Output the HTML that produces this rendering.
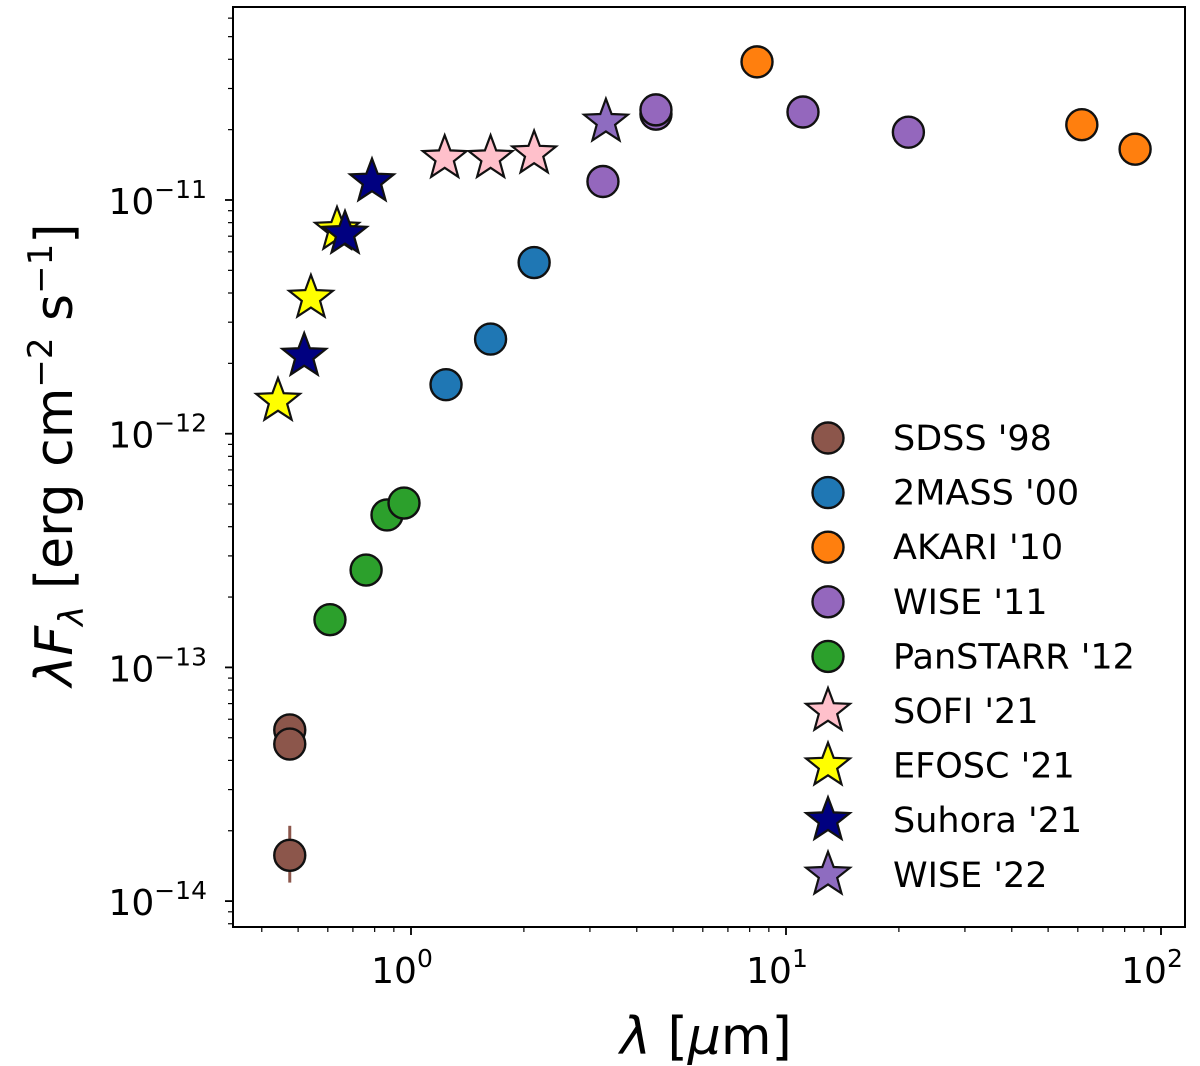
<!DOCTYPE html>
<html><head><meta charset="utf-8"><style>
html,body{margin:0;padding:0;background:#fff;}
svg{display:block;font-family:"DejaVu Sans","Liberation Sans",sans-serif;}
</style></head><body>
<svg id="chart" width="1200" height="1066" viewBox="0 0 1200 1066">
<rect x="0" y="0" width="1200" height="1066" fill="#fff"/>
<g id="ticks"></g>
<g id="marks"></g>
<rect x="233" y="7" width="952" height="920" fill="none" stroke="#000" stroke-width="2"/>
<g id="legend"></g>
<text x="706" y="1054" font-size="52" text-anchor="middle"><tspan font-style="italic">λ</tspan> [<tspan font-style="italic">μ</tspan>m]</text>
<text transform="translate(72,455) rotate(-90)" font-size="52" text-anchor="middle"><tspan font-style="italic">λF</tspan><tspan font-style="italic" font-size="34" dy="11">λ</tspan><tspan dy="-11"> [erg cm</tspan><tspan font-size="34" dy="-20">−2</tspan><tspan dy="20"> s</tspan><tspan font-size="34" dy="-20">−1</tspan><tspan dy="20">]</tspan></text>
</svg>
<script>
const seriesNames = ["SDSS '98","2MASS '00","AKARI '10","WISE '11","PanSTARR '12","SOFI '21","EFOSC '21","Suhora '21","WISE '22"];
const seriesColors = ["#8c564b","#1f77b4","#ff7f0e","#9467bd","#2ca02c","#ffc0cb","#ffff00","#000080","#8e6cc0"];
const seriesShapes = ["o","o","o","o","o","*","*","*","*"];
const sdssX = [0.475,0.475,0.475];
const sdssY = [5.4e-14,4.7e-14,1.57e-14];
const sdssErrLo = [0,0,1.2e-14];
const sdssErrHi = [0,0,2.1e-14];
const twomassX = [1.24,1.63,2.13];
const twomassY = [1.62e-12,2.54e-12,5.4e-12];
const akariX = [8.37,61.5,85.3];
const akariY = [3.9e-11,2.1e-11,1.65e-11];
const wise11X = [3.25,4.5,4.5,11.1,21.2];
const wise11Y = [1.2e-11,2.33e-11,2.43e-11,2.38e-11,1.95e-11];
const panstarrX = [0.608,0.759,0.863,0.958];
const panstarrY = [1.6e-13,2.61e-13,4.49e-13,5.05e-13];
const sofiX = [1.23,1.63,2.13];
const sofiY = [1.51e-11,1.51e-11,1.58e-11];
const efoscX = [0.442,0.541,0.635];
const efoscY = [1.38e-12,3.81e-12,7.45e-12];
const suhoraX = [0.519,0.667,0.787];
const suhoraY = [2.15e-12,7.16e-12,1.2e-11];
const wise22X = [3.31];
const wise22Y = [2.16e-11];
const xMajorTicks = [1,10,100];
const xMajorLabels = ["0","1","2"];
const yMajorTicks = [1e-11,1e-12,1e-13,1e-14];
const yMajorLabels = ["−11","−12","−13","−14"];

const NS="http://www.w3.org/2000/svg";
const X0=233,X1=1185,Y0=7,Y1=927;
function xs(v){return 411+375*Math.log10(v);}
function ys(v){return 200+233.7*(-11-Math.log10(v));}
function mk(tag,attrs,parent){const e=document.createElementNS(NS,tag);for(const k in attrs)e.setAttribute(k,attrs[k]);parent.appendChild(e);return e;}
const ticks=document.getElementById('ticks'),marks=document.getElementById('marks'),legend=document.getElementById('legend');

for(let d=-1;d<=2;d++){for(let m=1;m<10;m++){const v=m*Math.pow(10,d);const x=xs(v);if(x<X0||x>X1)continue;
 const major=m===1;const l=mk('line',{x1:x,x2:x,y1:Y1,y2:Y1+(major?8:5),stroke:'#000','stroke-width':major?1.8:1.2},ticks);
 
 }}
xMajorTicks.forEach((v,i)=>{const t=mk('text',{x:xs(v)-9,y:983,'font-size':36,'text-anchor':'middle'},ticks);
 
 
 t.innerHTML='10<tspan font-size="25" dy="-16">'+xMajorLabels[i]+'</tspan>';});
for(let d=-15;d<=-10;d++){for(let m=1;m<10;m++){const v=m*Math.pow(10,d);const y=ys(v);if(y<Y0||y>Y1)continue;
 const major=m===1;const l=mk('line',{x1:X0,x2:X0-(major?8:5),y1:y,y2:y,stroke:'#000','stroke-width':major?1.8:1.2},ticks);
 
 }}
yMajorTicks.forEach((v,i)=>{const t=mk('text',{x:207,y:ys(v)+14,'font-size':36,'text-anchor':'end'},ticks);
 
 
 t.innerHTML='10<tspan font-size="25" dy="-16">'+yMajorLabels[i]+'</tspan>';});

function starPts(cx,cy,R){const r=R*0.42;let p=[];for(let i=0;i<10;i++){const a=-Math.PI/2+i*Math.PI/5;const rr=i%2?r:R;p.push((cx+rr*Math.cos(a)).toFixed(1)+','+(cy+rr*Math.sin(a)).toFixed(1));}return p.join(' ');}
function drawMarker(shape,cx,cy,color,parent){
 if(shape==='o')return mk('circle',{cx:cx,cy:cy,r:15.5,fill:color,stroke:'#111','stroke-width':2.4},parent);
 return mk('polygon',{points:starPts(cx,cy,23),fill:color,stroke:'#111','stroke-width':2.2,'stroke-linejoin':'miter'},parent);}

sdssX.forEach((v,i)=>{if(sdssErrLo[i]>0){const l=mk('line',{x1:xs(v),x2:xs(v),y1:ys(sdssErrHi[i]),y2:ys(sdssErrLo[i]),stroke:'#8c564b','stroke-width':3},marks);
 
 }});
const allX=[sdssX,twomassX,akariX,wise11X,panstarrX,sofiX,efoscX,suhoraX,wise22X];
const allY=[sdssY,twomassY,akariY,wise11Y,panstarrY,sofiY,efoscY,suhoraY,wise22Y];
const slug=["sdss","2mass","akari","wise-11","panstarr","sofi","efosc","suhora","wise-22"];
allX.forEach((xsArr,s)=>{xsArr.forEach((v,i)=>{const e=drawMarker(seriesShapes[s],xs(v),ys(allY[s][i]),seriesColors[s],marks);
 
 });});

seriesNames.forEach((n,i)=>{const y=438+54.6*i;const g=mk('g',{},legend);
 
 
 drawMarker(seriesShapes[i],828,y,seriesColors[i],g);
 const t=mk('text',{x:893,y:y+12,'font-size':35},g);t.textContent=n;});
</script>
</body></html>
